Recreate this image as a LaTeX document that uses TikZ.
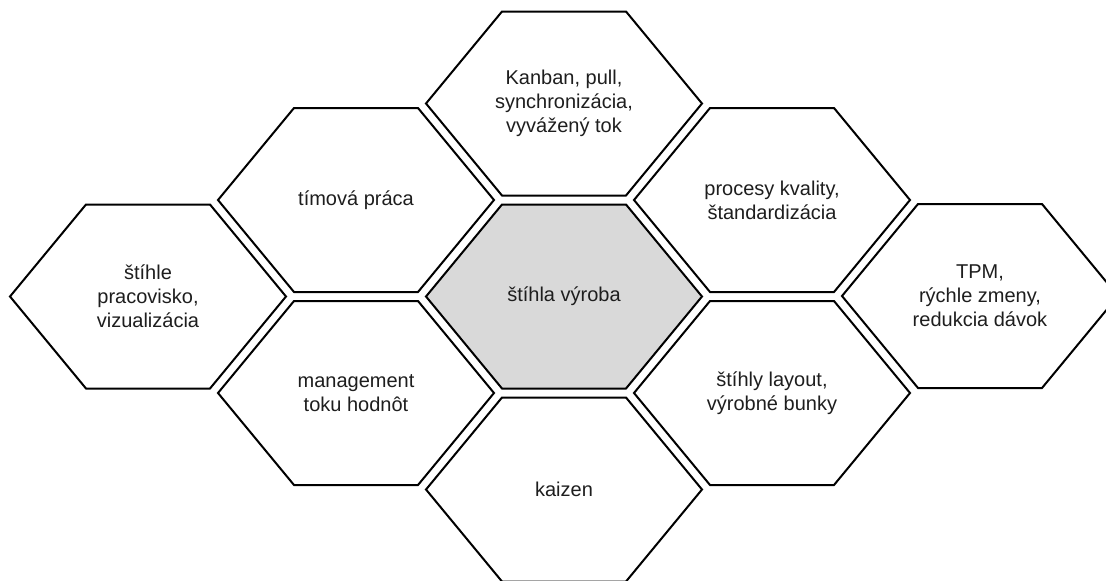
\documentclass[tikz,border=0pt]{standalone}
\usepackage{fontspec}
\setmainfont{Liberation Sans}
\definecolor{hexfill}{RGB}{217,217,217}
\definecolor{txt}{RGB}{30,30,30}
\tikzset{
  hexline/.style={draw=black, line width=2pt, line join=miter},
  hexlabel/.style={align=center, text=txt, font=\fontsize{20}{24}\selectfont, inner sep=0pt},
}
\newcommand\hexcell[5]{%
  \path[hexline,#5] (#2-138,#3) -- (#2-62,#3-92) -- (#2+62,#3-92) -- (#2+138,#3)
     -- (#2+62,#3+92) -- (#2-62,#3+92) -- cycle;
  \node[hexlabel] (#1) at (#2,#3) {#4};
}
\begin{document}
\begin{tikzpicture}[x=1pt,y=-1pt]
\useasboundingbox (0,0) rectangle (1106,581);
\clip (0,0) rectangle (1106,581);
\hexcell{left}{148}{296.5}{štíhle\\pracovisko,\\vizualizácia}{fill=white}
\hexcell{team}{356}{200}{tímová práca}{fill=white}
\hexcell{vsm}{356}{393}{management\\toku hodnôt}{fill=white}
\hexcell{top}{564}{103.5}{Kanban, pull,\\synchronizácia,\\vyvážený tok}{fill=white}
\hexcell{center}{564}{296.5}{štíhla výroba}{fill=hexfill}
\hexcell{bottom}{564}{489.5}{kaizen}{fill=white}
\hexcell{quality}{772}{200}{procesy kvality,\\štandardizácia}{fill=white}
\hexcell{layout}{772}{393}{štíhly layout,\\výrobné bunky}{fill=white}
\hexcell{tpm}{980}{296}{TPM,\\rýchle zmeny,\\redukcia dávok}{fill=white}
\end{tikzpicture}
\end{document}
